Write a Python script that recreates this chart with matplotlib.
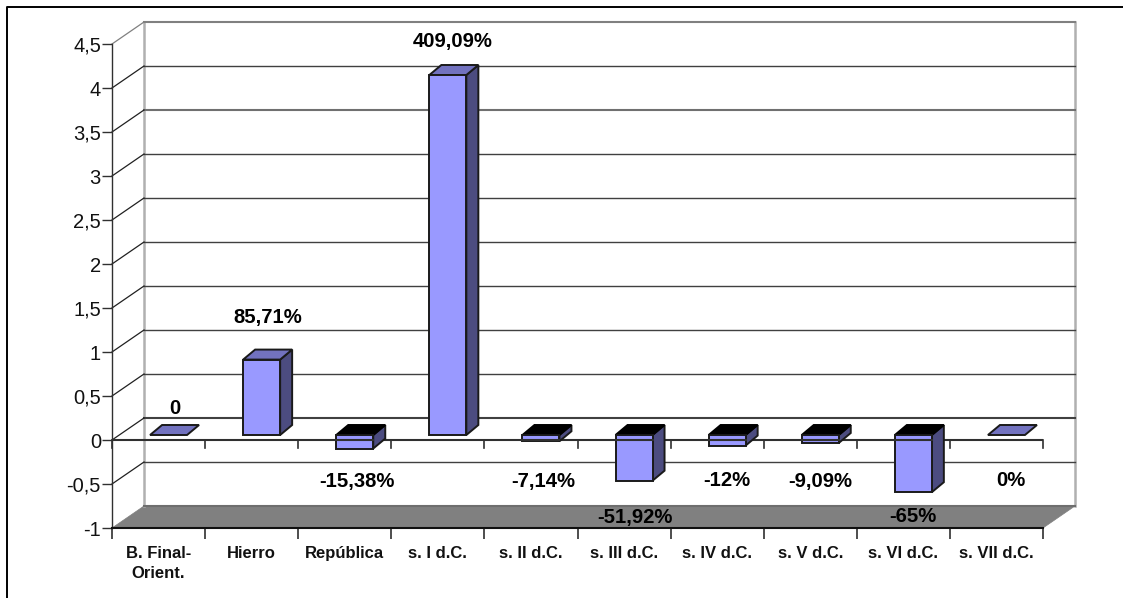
import matplotlib
matplotlib.use("Agg")
import matplotlib.pyplot as plt
from matplotlib.patches import Polygon
from matplotlib.lines import Line2D

plt.rcParams["font.family"] = ["Liberation Sans", "DejaVu Sans"]

# Data
categories = ["B. Final-\nOrient.", "Hierro", "República", "s. I d.C.", "s. II d.C.",
              "s. III d.C.", "s. IV d.C.", "s. V d.C.", "s. VI d.C.", "s. VII d.C."]
values = [0, 0.8571, -0.1538, 4.0909, -0.0714, -0.5192, -0.12, -0.0909, -0.65, 0]
value_labels = ["0", "85,71%", "-15,38%", "409,09%", "-7,14%", "-51,92%", "-12%", "-9,09%", "-65%", "0%"]
y_ticks = [-1, -0.5, 0, 0.5, 1, 1.5, 2, 2.5, 3, 3.5, 4, 4.5]
y_tick_labels = ["-1", "-0,5", "0", "0,5", "1", "1,5", "2", "2,5", "3", "3,5", "4", "4,5"]

W, H = 1123, 598
fig = plt.figure(figsize=(W / 100, H / 100), dpi=100)

# Front plane of the fake 3D box, in pixels
left, right, top, bottom = 112, 1043, 44, 528
ax = fig.add_axes([left / W, 1 - bottom / H, (right - left) / W, (bottom - top) / H])
ax.set_xlim(0, len(categories))
ax.set_ylim(-1, 4.5)
ax.patch.set_visible(False)

px_x = len(categories) / (right - left)
px_y = 5.5 / (bottom - top)

# wall depth and bar depth
dx, dy = 32 * px_x, 22 * px_y
bar_dx, bar_dy = 12 * px_x, 10 * px_y
bar_w = 37 * px_x
bar_shift = 10 * px_x
base_y = 5 * px_y
n = len(categories)

wall = "#808080"
bar_front = "#9999ff"
bar_top = "#7272bf"
bar_side = "#4c4c80"
edge = "#1a1a1a"


def poly(pts, fc, ec=edge, lw=1.4, z=3):
    ax.add_patch(Polygon(pts, closed=True, fc=fc, ec=ec, lw=lw, zorder=z, clip_on=False))


# floor
poly([(0, -1), (n, -1), (n + dx, -1 + dy), (dx, -1 + dy)], wall, ec=wall, lw=0.5, z=1)
ax.plot([dx, n + dx], [-1 + dy, -1 + dy], color="#6e6e6e", lw=1.5, zorder=1.2, clip_on=False)

# back wall edges
ax.plot([dx, dx], [-1 + dy, 4.5 + dy], color="#b0b0b0", lw=1.8, zorder=1, clip_on=False)
ax.plot([n + dx, n + dx], [-1 + dy, 4.5 + dy], color="#b0b0b0", lw=1.8, zorder=1, clip_on=False)

# gridlines on the wall and the side wall
for t in y_ticks[1:]:
    c = "#808080" if t == 4.5 else "#404040"
    lw = 1.5 if t in (0, 3.5, 4.5) else 1.0
    if t == 3.5:
        c = "#707070"
    ax.plot([dx, n + dx], [t + dy, t + dy], color=c, lw=lw, zorder=1.5, clip_on=False)
    ax.plot([0, dx], [t, t + dy], color="#808080" if t == 4.5 else "#202020", lw=0.9, zorder=1.5, clip_on=False)

# zero axis line on the front plane
ax.plot([0, n], [0, 0], color="#303030", lw=1.5, zorder=2)
for i in range(n + 1):
    ax.plot([i, i], [0, -8 * px_y], color="#303030", lw=1.2, zorder=2, clip_on=False)

# bars
for i, v in enumerate(values):
    x0 = i + 0.5 + bar_shift - bar_w / 2
    x1 = x0 + bar_w
    if v == 0:
        poly([(x0, base_y), (x1, base_y), (x1 + bar_dx, base_y + bar_dy), (x0 + bar_dx, base_y + bar_dy)],
             bar_top, z=3)
        continue
    lo = min(base_y, base_y + v)
    hi = max(base_y, base_y + v)
    poly([(x1, lo), (x1 + bar_dx, lo + bar_dy), (x1 + bar_dx, hi + bar_dy), (x1, hi)], bar_side, z=3)
    poly([(x0, hi), (x1, hi), (x1 + bar_dx, hi + bar_dy), (x0 + bar_dx, hi + bar_dy)],
         bar_top if v > 0 else "black", ec="black" if v < 0 else edge, z=3)
    ax.bar(i + 0.5 + bar_shift, hi - lo, width=bar_w, bottom=lo, color=bar_front, edgecolor=edge, lw=1.4, zorder=3.2)
    # axis line shows through the low bars
    if v < 0:
        ax.plot([x0, x1], [0, 0], color="#303030", lw=1.5, zorder=3.3)

# value labels, offsets in pixels from category centre and zero line
label_dx = [16.5, 16.4, 12.3, 15, 12, 11, 10, 10, 10, 14]
label_dy = [31, 122, -41, 399, -41, -77, -41, -41, -77, -41]
for i, s in enumerate(value_labels):
    ax.text(i + 0.5 + label_dx[i] * px_x, label_dy[i] * px_y, s, ha="center", va="center", fontsize=14.6,
            fontweight="bold", color="black", zorder=5, clip_on=False)

# axes and ticks
for s in ["top", "right"]:
    ax.spines[s].set_visible(False)
ax.spines["left"].set_color("#303030")
ax.spines["bottom"].set_color("#101010")
ax.spines["left"].set_linewidth(1.0)
ax.spines["bottom"].set_linewidth(1.5)
ax.set_yticks(y_ticks)
ax.set_yticklabels(y_tick_labels, fontsize=14.5, color="#111111")
ax.set_xticks(range(n + 1))
ax.set_xticklabels([])
ax.tick_params(axis="y", length=7, width=1.0, color="#303030", pad=1)
ax.tick_params(axis="x", length=8, width=1.2, color="#303030")
for i, c in enumerate(categories):
    ax.text(i + 0.5, -1 - 18 * px_y, c, ha="center", va="top", fontsize=12, fontweight="bold",
            color="#111111", linespacing=1.42, clip_on=False)

# outer chart border, only top and left stay inside the picture
fig.add_artist(Line2D([7 / W, 7 / W, 1], [0, 1 - 6.5 / H, 1 - 6.5 / H], transform=fig.transFigure,
                      color="black", lw=1.4))

fig.savefig("out.png", dpi=100)
